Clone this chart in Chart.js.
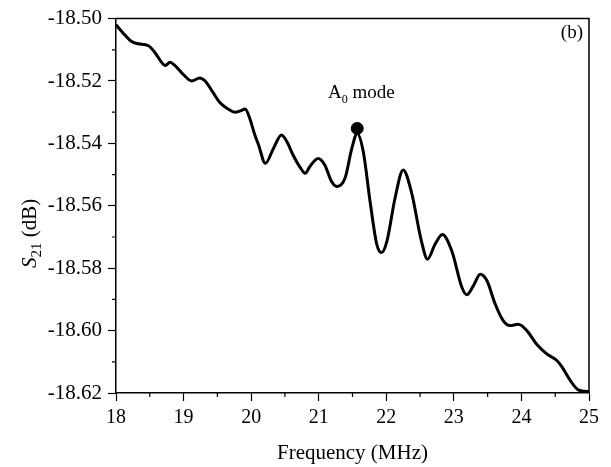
<!DOCTYPE html>
<html>
<head>
<meta charset="utf-8">
<script src="https://cdn.jsdelivr.net/npm/chart.js@4"></script>
<style>
  body { margin: 0; background: #fff; }
  #wrap { width: 611px; height: 467px; }
</style>
</head>
<body>
<div id="wrap"><canvas id="myChart" width="611" height="467"></canvas></div>
<script>
// values
const freq = [18.00, 18.10, 18.21, 18.31, 18.48, 18.58, 18.73, 18.80, 18.87, 19.00,
  19.12, 19.24, 19.32, 19.43, 19.54, 19.66, 19.76, 19.85, 19.91, 19.98,
  20.05, 20.11, 20.21, 20.33, 20.45, 20.53, 20.62, 20.72, 20.80, 20.87,
  20.99, 21.09, 21.19, 21.27, 21.39, 21.49, 21.57, 21.66, 21.76, 21.86,
  21.93, 22.01, 22.13, 22.25, 22.37, 22.52, 22.61, 22.72, 22.83, 22.97,
  23.12, 23.19, 23.29, 23.39, 23.49, 23.61, 23.73, 23.83, 23.95, 24.08,
  24.22, 24.37, 24.52, 24.60, 24.72, 24.84, 24.97, 25.00];
const s21 = [-18.5020, -18.5045, -18.5070, -18.5080, -18.5087, -18.5110, -18.5150, -18.5140, -18.5150, -18.5180,
  -18.5200, -18.5190, -18.5200, -18.5235, -18.5270, -18.5290, -18.5300, -18.5295, -18.5290, -18.5320,
  -18.5370, -18.5405, -18.5464, -18.5416, -18.5373, -18.5395, -18.5437, -18.5475, -18.5496, -18.5474,
  -18.5448, -18.5469, -18.5522, -18.5538, -18.5511, -18.5416, -18.5368, -18.5427, -18.5586, -18.5724,
  -18.5750, -18.5713, -18.5575, -18.5485, -18.5554, -18.5713, -18.5771, -18.5724, -18.5692, -18.5745,
  -18.5862, -18.5885, -18.5856, -18.5819, -18.5840, -18.5914, -18.5968, -18.5984, -18.5980, -18.6000,
  -18.6042, -18.6074, -18.6095, -18.6116, -18.6159, -18.6190, -18.6195, -18.6195];

const modeFreq = [21.57];
const modeS21 = [-18.5352];

const xTicks = [18, 19, 20, 21, 22, 23, 24, 25];
const yTicks = [-18.62, -18.60, -18.58, -18.56, -18.54, -18.52, -18.50];

const serif = "'Liberation Serif', 'Times New Roman', serif";

// top/right frame, minor ticks, y title and the text notes
const extras = {
  id: 'extras',
  afterDraw(chart) {
    const { ctx, chartArea: a, scales: { x, y } } = chart;
    ctx.save();
    ctx.strokeStyle = '#000';
    ctx.lineWidth = 1.5;
    ctx.beginPath();
    ctx.moveTo(a.left, a.top);
    ctx.lineTo(a.right, a.top);
    ctx.lineTo(a.right, a.bottom);
    ctx.stroke();

    ctx.lineWidth = 1.2;
    ctx.beginPath();
    for (let i = 0; i < xTicks.length - 1; i++) {
      const px = x.getPixelForValue((xTicks[i] + xTicks[i + 1]) / 2);
      ctx.moveTo(px, a.bottom);
      ctx.lineTo(px, a.bottom + 4);
    }
    for (let i = 0; i < yTicks.length - 1; i++) {
      const py = y.getPixelForValue((yTicks[i] + yTicks[i + 1]) / 2);
      ctx.moveTo(a.left, py);
      ctx.lineTo(a.left - 4, py);
    }
    ctx.stroke();

    ctx.fillStyle = '#000';
    ctx.textBaseline = 'alphabetic';

    // y title: S21 (dB)
    ctx.save();
    ctx.translate(36, 268);
    ctx.rotate(-Math.PI / 2);
    ctx.textAlign = 'left';
    ctx.font = 'italic 21px ' + serif;
    ctx.fillText('S', 0, 0);
    let w = ctx.measureText('S').width;
    ctx.font = '15px ' + serif;
    ctx.fillText('21', w, 5);
    w += ctx.measureText('21').width;
    ctx.font = '21px ' + serif;
    ctx.fillText(' (dB)', w, 0);
    ctx.restore();

    // A0 mode note
    ctx.textAlign = 'left';
    ctx.font = '19px ' + serif;
    ctx.fillText('A', 328, 98);
    let tw = ctx.measureText('A').width;
    ctx.font = '12px ' + serif;
    ctx.fillText('0', 328 + tw, 103);
    tw += ctx.measureText('0').width;
    ctx.font = '19px ' + serif;
    ctx.fillText(' mode', 328 + tw, 98);

    // panel label
    ctx.textAlign = 'right';
    ctx.fillText('(b)', 583, 38);
    ctx.restore();
  }
};

new Chart(document.getElementById('myChart').getContext('2d'), {
  type: 'line',
  data: {
    datasets: [{
      data: freq.map((f, i) => ({ x: f, y: s21[i] })),
      borderColor: '#000',
      borderWidth: 3,
      pointRadius: 0,
      cubicInterpolationMode: 'monotone',
      fill: false
    }, {
      data: modeFreq.map((f, i) => ({ x: f, y: modeS21[i] })),
      showLine: false,
      pointRadius: 6,
      pointBackgroundColor: '#000',
      pointBorderColor: '#000'
    }]
  },
  plugins: [extras],
  options: {
    responsive: false,
    animation: false,
    layout: { padding: { top: 16, right: 22, left: 0, bottom: 0 } },
    plugins: { legend: { display: false }, tooltip: { enabled: false } },
    scales: {
      x: {
        type: 'linear',
        min: 18,
        max: 25,
        afterBuildTicks: s => { s.ticks = xTicks.map(v => ({ value: v })); },
        afterFit: s => { s.height = 74; },
        grid: { drawOnChartArea: false, tickLength: 8, tickWidth: 1.2, tickColor: '#000' },
        border: { color: '#000', width: 1.5 },
        ticks: { color: '#000', font: { family: serif, size: 20 }, padding: 5, maxRotation: 0 },
        title: { display: true, text: 'Frequency (MHz)', color: '#000', font: { family: serif, size: 21 }, padding: { top: 0, bottom: 1 } }
      },
      y: {
        min: -18.62,
        max: -18.50,
        afterBuildTicks: s => { s.ticks = yTicks.map(v => ({ value: v })); },
        afterFit: s => { s.width = 116; },
        grid: { drawOnChartArea: false, tickLength: 8, tickWidth: 1.2, tickColor: '#000' },
        border: { color: '#000', width: 1.5 },
        ticks: { color: '#000', font: { family: serif, size: 21 }, padding: 6, callback: v => v.toFixed(2) }
      }
    }
  }
});
</script>
</body>
</html>
